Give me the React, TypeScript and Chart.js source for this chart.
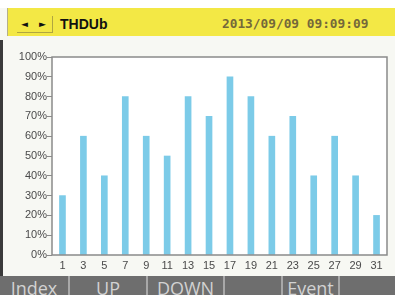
import React, { useEffect, useRef } from "react";
import { Chart, registerables } from "chart.js";

Chart.register(...registerables);

const harmonics = ["1", "3", "5", "7", "9", "11", "13", "15", "17", "19", "21", "23", "25", "27", "29", "31"];
const thdValues = [30, 60, 40, 80, 60, 50, 80, 70, 90, 80, 60, 70, 40, 60, 40, 20];
const menuLabels = ["Index", "UP", "DOWN", "", "Event", ""];
const menuEdges = [0, 68, 146, 223, 281, 338, 395];
const titleText = "THDUb";
const dateText = "2013/09/09 09:09:09";

const boxPlugin = {
  id: "boxPlugin",
  afterDraw(chart: any) {
    const { ctx, chartArea } = chart;
    ctx.save();
    ctx.strokeStyle = "#8a8a8a";
    ctx.lineWidth = 1.5;
    ctx.strokeRect(chartArea.left, chartArea.top, chartArea.right - chartArea.left, chartArea.bottom - chartArea.top);
    ctx.restore();
  },
  beforeDraw(chart: any) {
    const { ctx, chartArea } = chart;
    ctx.save();
    ctx.fillStyle = "#ffffff";
    ctx.fillRect(chartArea.left, chartArea.top, chartArea.right - chartArea.left, chartArea.bottom - chartArea.top);
    ctx.restore();
  },
};

export default function App() {
  const ref = useRef<HTMLCanvasElement>(null);
  useEffect(() => {
    if (!ref.current) return;
    const chart = new Chart(ref.current, {
      type: "bar",
      data: {
        labels: harmonics,
        datasets: [
          {
            data: thdValues,
            backgroundColor: "#7ccbe8",
            barThickness: 6,
          },
        ],
      },
      options: {
        animation: false,
        responsive: false,
        maintainAspectRatio: false,
        layout: { padding: { top: 17, right: 8, left: 0, bottom: 0 } },
        plugins: { legend: { display: false }, tooltip: { enabled: false } },
        scales: {
          x: {
            grid: { display: false, drawTicks: false },
            border: { display: false },
            ticks: { color: "#4a4a4a", font: { family: "Liberation Sans", size: 11 }, padding: 4, maxRotation: 0, autoSkip: false },
            afterFit(scale: any) {
              scale.height = 20;
            },
          },
          y: {
            min: 0,
            max: 100,
            grid: { display: true, drawOnChartArea: false, drawTicks: true, tickLength: 5, color: "#8a8a8a", lineWidth: 1 },
            border: { display: false },
            ticks: {
              stepSize: 10,
              color: "#4a4a4a",
              font: { family: "Liberation Sans", size: 11 },
              padding: 0,
              callback: (v: any) => v + "%",
            },
            afterFit(scale: any) {
              scale.width = 52;
            },
          },
        },
      },
      plugins: [boxPlugin],
    });
    return () => chart.destroy();
  }, []);

  return (
    <div style={{ position: "fixed", left: 0, top: 0, width: 395, height: 295, background: "#f7f8f3", overflow: "hidden" }}>
      <div style={{ position: "absolute", left: 0, top: 0, width: 395, height: 8, background: "#ffffff" }} />
      <div style={{ position: "absolute", left: 0, top: 40, width: 3, height: 255, background: "#3a3a3a" }} />
      <div
        style={{
          position: "absolute",
          left: 7,
          top: 8,
          width: 388,
          height: 28,
          background: "#f3e845",
          borderLeft: "1px solid #b5b08a",
        }}
      />
      <div
        style={{
          position: "absolute",
          left: 17,
          top: 16,
          width: 35,
          height: 16,
          borderRight: "1px solid #b0a640",
          borderBottom: "1px solid #b0a640",
          fontSize: 9,
          fontFamily: "DejaVu Sans",
          color: "#111",
          lineHeight: "16px",
        }}
      >
        <span style={{ position: "absolute", left: 4 }}>◄</span>
        <span style={{ position: "absolute", left: 22 }}>►</span>
      </div>
      <div
        style={{
          position: "absolute",
          left: 60,
          top: 14,
          fontFamily: "Liberation Sans",
          fontWeight: "bold",
          fontSize: 14,
          color: "#111",
          lineHeight: "20px",
        }}
      >
        {titleText}
      </div>
      <div
        style={{
          position: "absolute",
          left: 222,
          top: 14,
          fontFamily: "DejaVu Sans Mono",
          fontWeight: "bold",
          fontSize: 12.8,
          color: "#75683a",
          lineHeight: "20px",
        }}
      >
        {dateText}
      </div>
      <canvas ref={ref} width={395} height={235} style={{ position: "absolute", left: 0, top: 40 }} />
      <div style={{ position: "absolute", left: 0, top: 276, width: 395, height: 19, background: "#6e6e6e" }}>
        {menuLabels.map((t, i) => (
          <div
            key={i}
            style={{
              position: "absolute",
              left: menuEdges[i],
              width: menuEdges[i + 1] - menuEdges[i],
              top: 0,
              height: 19,
              textAlign: "center",
              fontFamily: "Open Sans",
              fontSize: 18,
              lineHeight: "24px",
              color: "#d2d2d2",
              borderLeft: i > 0 ? "2px solid #a8a8a8" : "none",
              boxSizing: "border-box",
              overflow: "hidden",
            }}
          >
            {t}
          </div>
        ))}
      </div>
    </div>
  );
}
